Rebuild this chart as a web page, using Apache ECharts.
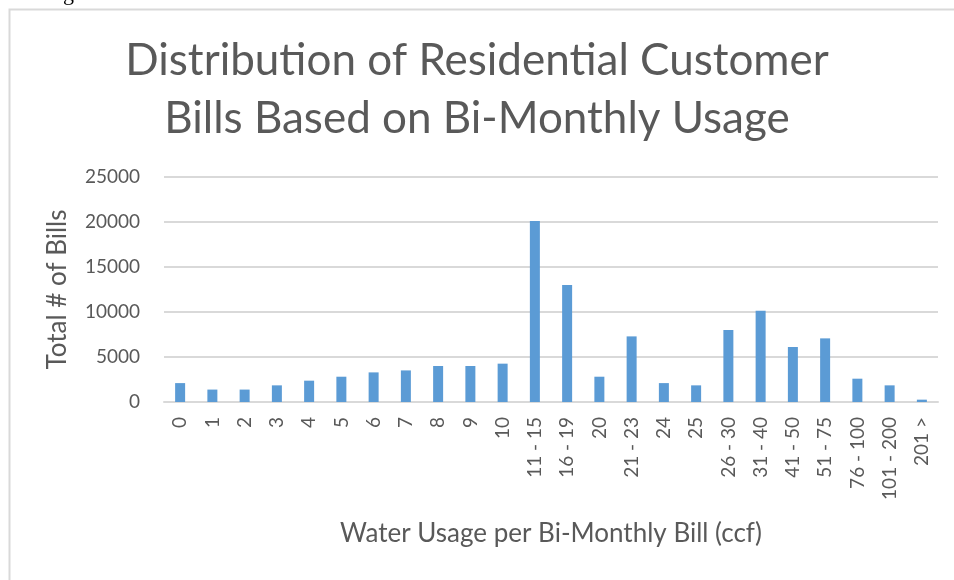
<!DOCTYPE html>
<html>
<head>
<meta charset="utf-8">
<title>Distribution of Residential Customer Bills</title>
<script src="https://cdn.jsdelivr.net/npm/echarts@6/dist/echarts.min.js"></script>
<style>
    html, body { margin: 0; padding: 0; background: #ffffff; }
    #chart { width: 954px; height: 580px; }
</style>
</head>
<body>
<div id="chart"></div>
<script>
// usage buckets (ccf) and number of bills in each
const usageBuckets = ['0', '1', '2', '3', '4', '5', '6', '7', '8', '9', '10',
    '11 - 15', '16 - 19', '20', '21 - 23', '24', '25', '26 - 30', '31 - 40',
    '41 - 50', '51 - 75', '76 - 100', '101 - 200', '201 >'];
const billCounts = [2100, 1380, 1380, 1850, 2370, 2810, 3290, 3510, 4000, 4000, 4260,
    20100, 13000, 2810, 7290, 2100, 1850, 8000, 10150, 6110, 7070, 2590, 1850, 260];
const yTicks = [0, 5000, 10000, 15000, 20000, 25000];

const chart = echarts.init(document.getElementById('chart'), null, { renderer: 'canvas' });

const textGray = '#595959';
const font = 'Lato, "Open Sans", sans-serif';

const option = {
    backgroundColor: '#ffffff',
    animation: false,
    title: {
        text: 'Distribution of Residential Customer\nBills Based on Bi-Monthly Usage',
        left: 'center',
        top: 27,
        textStyle: {
            color: textGray,
            fontFamily: font,
            fontWeight: 'normal',
            fontSize: 44,
            lineHeight: 58
        }
    },
    graphic: [
        {
            type: 'rect',
            left: 7, top: 7,
            shape: { width: 970, height: 600 },
            style: { fill: 'none', stroke: '#d9d9d9', lineWidth: 2 },
            silent: true
        },
        {
            type: 'text',
            left: 63, top: -17,
            style: { text: 'g', fontSize: 22, fontFamily: '"Liberation Serif", serif', fill: '#000000' },
            silent: true
        }
    ],
    grid: {
        left: 164,
        right: 16,
        top: 177,
        bottom: 178,
        containLabel: false
    },
    xAxis: {
        type: 'category',
        data: usageBuckets,
        name: 'Water Usage per Bi-Monthly Bill (ccf)',
        nameLocation: 'middle',
        nameGap: 119,
        nameTextStyle: { color: textGray, fontFamily: font, fontSize: 26 },
        axisLine: { show: true, lineStyle: { color: '#d9d9d9', width: 2 } },
        axisTick: { show: false },
        axisLabel: {
            interval: 0,
            rotate: 90,
            margin: 15,
            color: textGray,
            fontFamily: font,
            fontSize: 19
        }
    },
    yAxis: {
        type: 'value',
        min: yTicks[0],
        max: yTicks[yTicks.length - 1],
        interval: yTicks[1] - yTicks[0],
        name: 'Total # of Bills',
        nameLocation: 'middle',
        nameGap: 93,
        nameRotate: 90,
        nameTextStyle: { color: textGray, fontFamily: font, fontSize: 26 },
        axisLine: { show: false },
        axisTick: { show: false },
        axisLabel: {
            margin: 24,
            color: textGray,
            fontFamily: font,
            fontSize: 19,
            formatter: v => String(v)
        },
        splitLine: { lineStyle: { color: '#d9d9d9', width: 2 } }
    },
    series: [
        {
            type: 'bar',
            data: billCounts,
            barWidth: 10,
            itemStyle: { color: '#5b9bd5' }
        }
    ]
};

chart.setOption(option);
</script>
</body>
</html>
